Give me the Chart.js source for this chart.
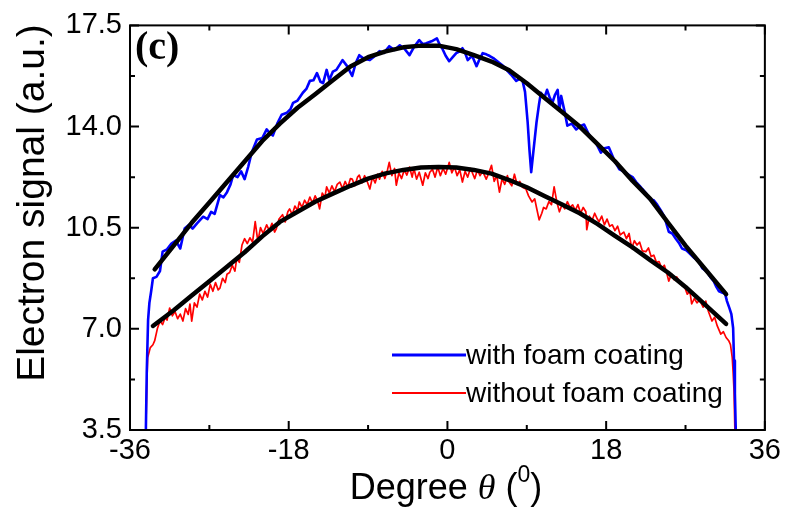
<!DOCTYPE html>
<html>
<head>
<meta charset="utf-8">
<script src="https://cdn.jsdelivr.net/npm/chart.js@4.4.0/dist/chart.umd.min.js"></script>
<style>
  html, body { margin: 0; padding: 0; background: #fff; }
  #wrap { width: 785px; height: 512px; }
</style>
</head>
<body>
<div id="wrap"><canvas id="chart"></canvas></div>
<script>
// axis ticks
const xTicks = [-36, -18, 0, 18, 36];
const yTicks = [3.5, 7.0, 10.5, 14.0, 17.5];
const seriesNames = ["with foam coating", "without foam coating"];

// measured signal, with foam coating (blue)
const blueX = [-34.2, -34.1, -33.95, -33.8, -33.6, -33.4, -33.0, -32.6, -32.3, -31.8, -31.3, -30.8, -30.3, -29.8, -29.3, -28.9, -28.4, -27.7, -27.2, -26.8,
  -26.4, -25.8, -25.4, -25.0, -24.6, -24.3, -23.8, -23.4, -23.0, -22.6, -22.2, -21.6, -21.0, -20.5, -20.1, -19.8, -19.3, -18.8, -18.2, -17.8,
  -17.5, -17.0, -16.4, -16.0, -15.6, -15.2, -14.8, -14.4, -14.1, -13.7, -13.4, -13.0, -12.6, -12.2, -11.9, -11.4, -10.8, -10.4, -10.0, -9.5,
  -8.8, -8.2, -7.7, -7.2, -6.6, -6.0, -5.4, -4.9, -4.3, -3.8, -3.2, -2.8, -2.4, -1.8, -1.2, -0.9, -0.6, -0.2, 0.2, 0.6,
  1.0, 1.4, 1.7, 2.0, 2.3, 2.8, 3.3, 3.6, 4.0, 4.4, 4.8, 5.3, 5.9, 6.3, 6.7, 7.2, 7.8, 8.2, 8.5, 8.8,
  9.1, 9.3, 9.5, 9.7, 10.1, 10.4, 10.6, 11.0, 11.3, 11.6, 11.9, 12.2, 12.5, 12.7, 12.9, 13.3, 13.6, 14.1, 14.6, 15.0,
  15.5, 16.0, 16.4, 16.9, 17.4, 17.8, 18.3, 18.9, 19.5, 20.0, 20.6, 21.0, 21.4, 21.8, 22.1, 22.5, 22.9, 23.4, 23.8, 24.2,
  24.6, 25.1, 25.5, 25.9, 26.3, 26.6, 27.1, 27.6, 28.0, 28.5, 28.9, 29.4, 29.8, 30.2, 30.5, 30.8, 31.2, 31.5, 31.7, 32.0,
  32.2, 32.4, 32.5, 32.6, 32.7];
const blueY = [3.5, 5.5, 7.3, 7.9, 8.3, 8.75, 8.8, 9.0, 9.67, 9.75, 9.95, 10.05, 9.78, 10.47, 10.6, 10.47, 10.65, 10.88, 10.8, 11.05,
  10.98, 11.63, 11.55, 11.73, 12.0, 12.32, 12.25, 12.45, 12.18, 12.6, 13.1, 13.55, 13.6, 13.9, 13.75, 13.69, 14.1, 14.41, 14.48, 14.6,
  14.82, 14.9, 15.17, 15.3, 15.58, 15.6, 15.85, 15.55, 15.5, 15.96, 15.61, 15.9, 15.96, 16.15, 16.3, 16.1, 15.75, 16.2, 16.47, 16.35,
  16.3, 16.45, 16.61, 16.55, 16.78, 16.65, 16.81, 16.7, 16.47, 16.75, 16.99, 16.85, 16.88, 16.95, 17.05, 16.85, 16.71, 16.45, 16.26, 16.4,
  16.54, 16.6, 16.71, 16.55, 16.3, 16.45, 16.09, 16.3, 16.54, 16.5, 16.44, 16.35, 16.2, 16.1, 15.96, 15.8, 15.58, 15.65, 15.61, 15.2,
  14.14, 13.2, 12.42, 13.0, 14.14, 14.8, 15.17, 15.0, 15.27, 15.0, 14.82, 15.1, 15.27, 14.58, 15.06, 14.5, 14.03, 14.1, 13.9, 14.0,
  14.07, 13.75, 13.55, 13.4, 13.1, 13.25, 13.28, 12.85, 12.52, 12.45, 12.32, 12.25, 12.08, 11.95, 11.84, 11.7, 11.49, 11.45, 11.29, 11.1,
  10.88, 10.36, 10.3, 10.12, 9.95, 9.78, 9.72, 9.57, 9.45, 9.33, 9.1, 8.99, 8.8, 8.65, 8.45, 8.3, 8.25, 8.2, 7.96, 7.7,
  7.51, 7.03, 5.9, 4.77, 3.5];

// measured signal, without foam coating (red)
const redX = [-34.2, -34.1, -34.0, -33.7, -33.4, -33.2, -32.9, -32.6, -32.3, -32.0, -31.8, -31.5, -31.2, -30.9, -30.6, -30.3, -30.0, -29.7, -29.4, -29.2,
  -29.0, -28.7, -28.4, -28.1, -27.8, -27.5, -27.2, -26.9, -26.6, -26.3, -26.0, -25.8, -25.5, -25.2, -25.0, -24.7, -24.4, -24.1, -23.9, -23.6,
  -23.3, -23.0, -22.7, -22.4, -22.1, -21.8, -21.5, -21.2, -20.9, -20.5, -20.2, -19.9, -19.6, -19.4, -19.1, -18.7, -18.4, -18.1, -17.9, -17.6,
  -17.3, -17.0, -16.8, -16.5, -16.2, -15.9, -15.6, -15.3, -15.0, -14.7, -14.5, -14.2, -13.9, -13.7, -13.4, -13.1, -12.8, -12.5, -12.2, -11.9,
  -11.6, -11.3, -11.0, -10.8, -10.5, -10.2, -10.0, -9.7, -9.4, -9.1, -8.8, -8.5, -8.2, -7.9, -7.7, -7.4, -7.1, -6.8, -6.6, -6.3,
  -6.0, -5.8, -5.5, -5.2, -4.9, -4.6, -4.3, -4.0, -3.8, -3.5, -3.2, -2.8, -2.5, -2.2, -2.0, -1.7, -1.4, -1.1, -0.8, -0.5,
  -0.2, 0.2, 0.5, 0.8, 1.1, 1.4, 1.7, 2.0, 2.3, 2.6, 2.8, 3.1, 3.4, 3.7, 4.0, 4.4, 4.7, 5.0, 5.3, 5.6,
  5.9, 6.2, 6.5, 6.8, 7.0, 7.3, 7.6, 7.9, 8.2, 8.5, 8.9, 9.2, 9.6, 9.9, 10.1, 10.4, 10.7, 10.9, 11.2, 11.5,
  11.8, 12.1, 12.4, 12.7, 13.0, 13.3, 13.6, 13.9, 14.2, 14.5, 14.8, 15.1, 15.4, 15.7, 15.8, 16.1, 16.4, 16.7, 17.0, 17.2,
  17.5, 17.8, 18.1, 18.4, 18.7, 19.0, 19.3, 19.6, 20.0, 20.3, 20.6, 20.9, 21.2, 21.5, 21.8, 22.1, 22.5, 22.8, 23.1, 23.4,
  23.7, 24.0, 24.3, 24.6, 24.9, 25.1, 25.4, 25.7, 26.0, 26.3, 26.6, 26.9, 27.2, 27.5, 27.7, 28.0, 28.3, 28.6, 29.0, 29.3,
  29.6, 30.0, 30.3, 30.6, 31.0, 31.3, 31.6, 31.9, 32.1, 32.3, 32.4, 32.5, 32.6];
const redY = [3.5, 5.0, 6.0, 6.35, 6.45, 6.59, 7.0, 7.27, 7.15, 7.4, 7.3, 7.72, 7.45, 7.6, 7.35, 7.51, 7.27, 7.7, 7.5, 7.86,
  7.27, 7.9, 7.75, 8.2, 8.0, 8.3, 8.1, 8.54, 8.3, 8.6, 8.35, 8.41, 8.75, 8.6, 8.89, 8.95, 9.2, 9.0, 9.43, 9.3,
  9.9, 10.12, 9.95, 10.15, 10.0, 10.71, 10.02, 10.5, 10.3, 10.6, 10.4, 10.65, 10.35, 10.47, 10.8, 10.95, 10.7, 11.05, 11.15, 10.95,
  11.25, 11.1, 11.39, 11.2, 11.45, 11.3, 11.56, 11.35, 11.6, 11.4, 11.15, 11.7, 11.55, 11.91, 11.7, 11.95, 11.75, 12.0, 12.08, 11.85,
  12.1, 11.9, 12.2, 12.18, 11.95, 12.25, 12.32, 12.05, 12.3, 12.1, 11.84, 12.25, 12.05, 12.35, 12.18, 12.45, 12.2, 12.5, 12.76, 12.3,
  12.55, 11.97, 12.4, 12.2, 12.5, 12.32, 12.6, 12.25, 12.55, 12.18, 12.42, 11.97, 12.4, 12.2, 12.42, 12.52, 12.25, 12.6, 12.3, 12.55,
  12.35, 12.76, 12.4, 12.6, 12.3, 12.5, 12.08, 12.45, 12.25, 12.55, 12.42, 12.2, 12.5, 12.3, 12.45, 12.18, 12.4, 12.66, 12.1, 12.3,
  11.73, 12.2, 12.0, 12.3, 12.08, 11.95, 12.35, 12.0, 12.1, 11.9, 11.84, 11.6, 11.39, 11.5, 11.2, 10.77, 11.0, 11.2, 11.15, 11.4,
  11.3, 11.91, 11.4, 11.05, 11.3, 11.15, 11.4, 11.2, 11.29, 11.1, 11.3, 11.0, 11.2, 11.05, 10.43, 10.9, 10.75, 11.0, 10.8, 10.71,
  10.9, 10.6, 10.8, 10.55, 10.6, 10.4, 10.55, 10.25, 10.35, 10.12, 10.3, 9.78, 10.05, 9.9, 10.0, 9.7, 9.67, 9.8, 9.5, 9.55,
  9.3, 9.33, 9.1, 9.2, 8.9, 8.65, 8.9, 8.7, 8.8, 8.65, 8.5, 8.45, 8.2, 8.3, 7.86, 8.05, 7.9, 8.0, 7.75, 7.96,
  7.6, 7.27, 7.4, 7.1, 6.82, 6.9, 6.7, 6.59, 6.45, 6.0, 5.5, 4.87, 3.5];

// fitted curves (black)
const blueFitX = [-33.2, -31, -29, -27, -25, -23, -21, -19, -17, -15, -13, -11, -9, -7, -5, -3, -1, 1, 3, 5, 7, 9, 11, 13, 15, 17, 19, 21, 23, 25, 27, 29, 31.6];
const blueFitY = [9.06, 9.9, 10.67, 11.37, 12.08, 12.79, 13.5, 14.1, 14.65, 15.12, 15.6, 16.08, 16.4, 16.6, 16.74, 16.8, 16.8, 16.68, 16.47, 16.25, 15.95, 15.5, 15.0, 14.5, 14.0, 13.4, 12.8, 12.12, 11.5, 10.68, 9.88, 9.15, 8.2];
const redFitX = [-33.4, -31, -29, -27, -25, -23, -21, -19, -17, -15, -13, -11, -9, -7, -5, -3, -1, 1, 3, 5, 7, 9, 11, 13, 15, 17, 19, 21, 23, 25, 27, 29, 31.6];
const redFitY = [7.1, 7.65, 8.15, 8.65, 9.15, 9.65, 10.2, 10.7, 11.05, 11.4, 11.68, 11.95, 12.2, 12.38, 12.5, 12.58, 12.6, 12.58, 12.5, 12.37, 12.15, 11.9, 11.6, 11.3, 11.0, 10.63, 10.22, 9.82, 9.38, 8.95, 8.45, 7.9, 7.17];

const toPts = (xs, ys) => xs.map((x, i) => ({ x: x, y: ys[i] }));

const FONT = "'Liberation Sans', Arial, sans-serif";

// frame + inward ticks on all four sides, panel label, axis titles, legend
const decorPlugin = {
  id: "decor",
  afterDraw(chart) {
    const ctx = chart.ctx;
    const a = chart.chartArea;
    const xs = chart.scales.x;
    const ys = chart.scales.y;
    ctx.save();
    ctx.strokeStyle = "#000";
    ctx.lineWidth = 2;
    ctx.strokeRect(a.left, a.top, a.right - a.left, a.bottom - a.top);

    ctx.beginPath();
    for (let v = -36; v <= 36; v += 9) {
      const p = xs.getPixelForValue(v);
      const len = v % 18 === 0 ? 9 : 5;
      ctx.moveTo(p, a.bottom); ctx.lineTo(p, a.bottom - len);
      ctx.moveTo(p, a.top); ctx.lineTo(p, a.top + len);
    }
    for (let k = 0; k <= 8; k++) {
      const v = 3.5 + k * 1.75;
      const p = ys.getPixelForValue(v);
      const len = k % 2 === 0 ? 9 : 5;
      ctx.moveTo(a.left, p); ctx.lineTo(a.left + len, p);
      ctx.moveTo(a.right, p); ctx.lineTo(a.right - len, p);
    }
    ctx.stroke();

    // (c)
    ctx.fillStyle = "#000";
    ctx.font = "bold 40px 'Liberation Serif', 'Times New Roman', serif";
    ctx.textAlign = "left";
    ctx.textBaseline = "alphabetic";
    ctx.fillText("(c)", a.left + 5, a.top + 34);

    // y title
    ctx.save();
    ctx.translate(33, 203);
    ctx.rotate(-Math.PI / 2);
    ctx.font = "39px " + FONT;
    ctx.textAlign = "center";
    ctx.textBaseline = "middle";
    ctx.fillText("Electron signal (a.u.)", 0, 0);
    ctx.restore();

    // x title: Degree θ (⁰)
    const base = 499;
    const f1 = "36px " + FONT;
    const f2 = "italic 36px 'Liberation Serif', serif";
    const f3 = "23px " + FONT;
    const parts = [["Degree ", f1, 0], ["\u03b8", f2, 0], [" (", f1, 0], ["0", f3, -17], [")", f1, 0]];
    let total = 0;
    parts.forEach(p => { ctx.font = p[1]; total += ctx.measureText(p[0]).width; });
    let cx = 446 - total / 2;
    ctx.textAlign = "left";
    parts.forEach(p => {
      ctx.font = p[1];
      ctx.fillText(p[0], cx, base + p[2]);
      cx += ctx.measureText(p[0]).width;
    });

    // legend
    const legendRows = [
      { y: 355, color: "#0000ff", w: 3 },
      { y: 393, color: "#ff0000", w: 2 }
    ];
    ctx.font = "28px " + FONT;
    ctx.textBaseline = "middle";
    legendRows.forEach((r, i) => {
      ctx.strokeStyle = r.color;
      ctx.lineWidth = r.w;
      ctx.beginPath();
      ctx.moveTo(392, r.y); ctx.lineTo(466, r.y);
      ctx.stroke();
      ctx.fillStyle = "#000";
      ctx.fillText(seriesNames[i], 466, r.y + 1);
    });
    ctx.restore();
  }
};

const ctx = document.getElementById("chart").getContext("2d");
new Chart(ctx, {
  type: "scatter",
  data: {
    datasets: [
      { label: "fit 1", data: toPts(blueFitX, blueFitY), borderColor: "#000", borderWidth: 4.5, order: 0 },
      { label: "fit 2", data: toPts(redFitX, redFitY), borderColor: "#000", borderWidth: 4.5, order: 0 },
      { label: seriesNames[0], data: toPts(blueX, blueY), borderColor: "#0000ff", borderWidth: 2.6, order: 1 },
      { label: seriesNames[1], data: toPts(redX, redY), borderColor: "#ff0000", borderWidth: 1.7, order: 2 }
    ]
  },
  options: {
    responsive: true,
    maintainAspectRatio: false,
    animation: false,
    showLine: true,
    elements: {
      point: { radius: 0, hoverRadius: 0 },
      line: { tension: 0, fill: false, borderJoinStyle: "round", borderCapStyle: "round" }
    },
    layout: { padding: { top: 22, right: 19, left: 0, bottom: 0 } },
    plugins: { legend: { display: false }, tooltip: { enabled: false } },
    scales: {
      x: {
        type: "linear",
        min: -36, max: 36,
        afterBuildTicks: s => { s.ticks = xTicks.map(v => ({ value: v })); },
        afterFit: s => { s.height = 82; },
        grid: { display: false, drawTicks: false },
        border: { display: false },
        ticks: { color: "#000", font: { family: FONT, size: 29 }, padding: 4, maxRotation: 0, autoSkip: false }
      },
      y: {
        type: "linear",
        min: 3.5, max: 17.5,
        afterBuildTicks: s => { s.ticks = yTicks.map(v => ({ value: v })); },
        afterFit: s => { s.width = 130; },
        grid: { display: false, drawTicks: false },
        border: { display: false },
        ticks: { color: "#000", font: { family: FONT, size: 29 }, padding: 8, autoSkip: false,
          callback: v => v.toFixed(1) }
      }
    }
  },
  plugins: [decorPlugin]
});
</script>
</body>
</html>
